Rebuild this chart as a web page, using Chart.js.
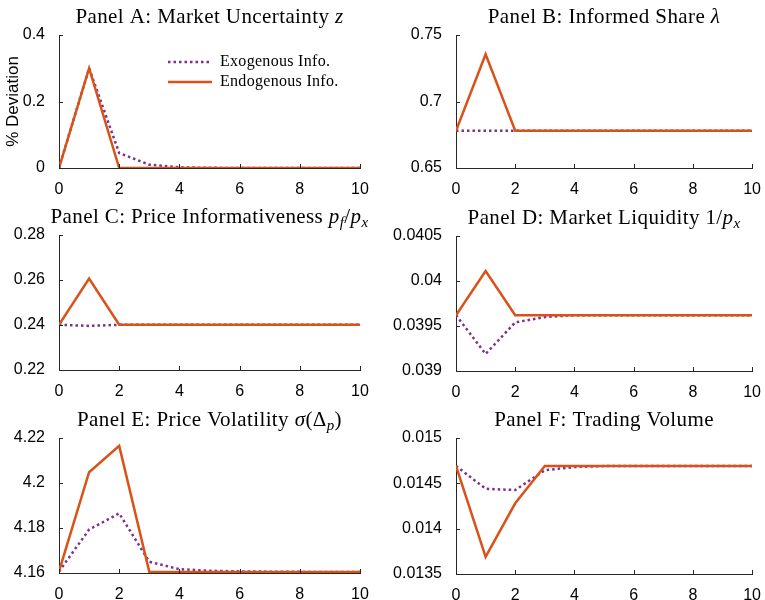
<!DOCTYPE html>
<html>
<head>
<meta charset="utf-8">
<script src="https://cdn.jsdelivr.net/npm/chart.js@4.4.1/dist/chart.umd.min.js"></script>
<style>
  body { margin: 0; background: #fff; }
  canvas { position: absolute; }
</style>
</head>
<body>
<canvas id="pA" width="380" height="200" style="left:0;top:0"></canvas>
<canvas id="pB" width="385" height="200" style="left:380px;top:0"></canvas>
<canvas id="pC" width="380" height="202" style="left:0;top:200px"></canvas>
<canvas id="pD" width="385" height="202" style="left:380px;top:200px"></canvas>
<canvas id="pE" width="380" height="198" style="left:0;top:402px"></canvas>
<canvas id="pF" width="385" height="198" style="left:380px;top:402px"></canvas>
<script>
// periods after the shock
const periods = [0, 1, 2, 3, 4, 5, 6, 7, 8, 9, 10];
const xTicks = [0, 2, 4, 6, 8, 10];

// Panel A: market uncertainty z
const zExo  = [0, 0.300, 0.045, 0.010, 0.002, 0.0005, 0, 0, 0, 0, 0];
const zEndo = [0, 0.300, 0, 0, 0, 0, 0, 0, 0, 0, 0];
const zTicks = [0, 0.2, 0.4];

// Panel B: informed share lambda
const lamExo  = [0.678, 0.678, 0.678, 0.678, 0.678, 0.678, 0.678, 0.678, 0.678, 0.678, 0.678];
const lamEndo = [0.678, 0.7355, 0.678, 0.678, 0.678, 0.678, 0.678, 0.678, 0.678, 0.678, 0.678];
const lamTicks = [0.65, 0.7, 0.75];

// Panel C: price informativeness pf/px
const infoExo  = [0.2401, 0.2396, 0.2401, 0.2401, 0.2401, 0.2401, 0.2401, 0.2401, 0.2401, 0.2401, 0.2401];
const infoEndo = [0.2401, 0.2606, 0.2401, 0.2401, 0.2401, 0.2401, 0.2401, 0.2401, 0.2401, 0.2401, 0.2401];
const infoTicks = [0.22, 0.24, 0.26, 0.28];

// Panel D: market liquidity 1/px
const liqExo  = [0.03962, 0.03919, 0.03954, 0.03960, 0.03962, 0.03962, 0.03962, 0.03962, 0.03962, 0.03962, 0.03962];
const liqEndo = [0.03962, 0.04011, 0.03962, 0.03962, 0.03962, 0.03962, 0.03962, 0.03962, 0.03962, 0.03962, 0.03962];
const liqTicks = [0.039, 0.0395, 0.04, 0.0405];

// Panel E: price volatility
const volExo  = [4.1607, 4.1793, 4.1865, 4.1650, 4.1617, 4.1610, 4.1607, 4.1606, 4.1605, 4.1605, 4.1605];
const volEndo = [4.1607, 4.2048, 4.2165, 4.1605, 4.1605, 4.1605, 4.1605, 4.1605, 4.1605, 4.1605, 4.1605];
const volTicks = [4.16, 4.18, 4.2, 4.22];

// Panel F: trading volume
const tvExo  = [0.014692, 0.014440, 0.014426, 0.014644, 0.014680, 0.014690, 0.014692, 0.014692, 0.014692, 0.014692, 0.014692];
const tvEndo = [0.014692, 0.013688, 0.014280, 0.014692, 0.014692, 0.014692, 0.014692, 0.014692, 0.014692, 0.014692, 0.014692];
const tvTicks = [0.0135, 0.014, 0.0145, 0.015];

const seriesNames = ["Exogenous Info.", "Endogenous Info."];
const exoColor = "#7E2F8E";
const endoColor = "#D95319";
const axisColor = "#262626";
const serif = "'Liberation Serif', 'DejaVu Serif', serif";
const sans = "'Liberation Sans', Arial, sans-serif";

// title pieces: [text, style] where style is n (normal), i (italic), s (italic subscript)
const titles = {
    pA: [["Panel A: Market Uncertainty ", "n"], ["z", "i"]],
    pB: [["Panel B: Informed Share ", "n"], ["λ", "i"]],
    pC: [["Panel C: Price Informativeness ", "n"], ["p", "i"], ["f", "s"], ["/", "n"], ["p", "i"], ["x", "s"]],
    pD: [["Panel D: Market Liquidity 1/", "n"], ["p", "i"], ["x", "s"]],
    pE: [["Panel E: Price Volatility ", "n"], ["σ", "i"], ["(Δ", "n"], ["p", "s"], [")", "n"]],
    pF: [["Panel F: Trading Volume", "n"]]
};

function pieceFont(style) {
    if (style === "s") return "italic 15px " + serif;
    if (style === "i") return "italic 21px " + serif;
    return "21px " + serif;
}

const panelDeco = {
    id: "panelDeco",
    afterDraw(chart, args, opts) {
        const ctx = chart.ctx;
        const area = chart.chartArea;
        const xs = chart.scales.x, ys = chart.scales.y;
        ctx.save();
        // inward tick marks
        ctx.strokeStyle = axisColor;
        ctx.lineWidth = 1;
        ctx.beginPath();
        xs.ticks.forEach(t => {
            const px = Math.round(xs.getPixelForValue(t.value)) + 0.5;
            ctx.moveTo(px, area.bottom);
            ctx.lineTo(px, area.bottom - 4);
        });
        ys.ticks.forEach(t => {
            const py = Math.round(ys.getPixelForValue(t.value)) + 0.5;
            ctx.moveTo(area.left, py);
            ctx.lineTo(area.left + 4, py);
        });
        ctx.stroke();

        // panel title with math pieces
        const pieces = titles[opts.key];
        ctx.letterSpacing = "0.4px";
        let total = 0;
        pieces.forEach(p => { ctx.font = pieceFont(p[1]); total += ctx.measureText(p[0]).width; });
        let x = (area.left + area.right) / 2 - total / 2;
        const base = area.top - 12.5;
        ctx.fillStyle = "#000";
        ctx.textBaseline = "alphabetic";
        ctx.textAlign = "left";
        pieces.forEach(p => {
            ctx.font = pieceFont(p[1]);
            ctx.fillText(p[0], x, p[1] === "s" ? base + 4 : base);
            x += ctx.measureText(p[0]).width;
        });
        ctx.letterSpacing = "0px";

        // legend only in panel A
        if (opts.legend) {
            const lx = area.left + 109, ly = area.top + 27;
            chart.data.datasets.forEach((ds, k) => {
                const y = ly + k * 20;
                ctx.strokeStyle = ds.borderColor;
                ctx.lineWidth = ds.borderWidth;
                ctx.setLineDash(ds.borderDash || []);
                ctx.beginPath();
                ctx.moveTo(lx, y);
                ctx.lineTo(lx + 44, y);
                ctx.stroke();
                ctx.setLineDash([]);
                ctx.font = "16px " + serif;
                ctx.letterSpacing = "0.3px";
                ctx.fillStyle = "#000";
                ctx.textBaseline = "middle";
                ctx.fillText(ds.label, lx + 52, y);
                ctx.letterSpacing = "0px";
            });
        }
        ctx.restore();
    }
};

function toPoints(vals) {
    return periods.map((t, i) => ({x: t, y: vals[i]}));
}

function makePanel(id, exo, endo, yTicks, layout) {
    const yScale = {
        type: "linear",
        min: yTicks[0],
        max: yTicks[yTicks.length - 1],
        afterBuildTicks: s => { s.ticks = yTicks.map(v => ({value: v})); },
        afterFit: s => { s.width = layout.yw; },
        grid: {display: false},
        border: {display: true, color: axisColor, width: 1},
        ticks: {font: {family: sans, size: 16}, color: "#000", padding: 6, callback: v => String(v)}
    };
    if (layout.ytitle) {
        yScale.title = {display: true, text: layout.ytitle, color: "#000",
            font: {family: sans, size: 17}, padding: {top: 3, bottom: 0}};
    }
    new Chart(document.getElementById(id), {
        type: "line",
        data: {
            datasets: [
                {label: seriesNames[0], data: toPoints(exo), borderColor: exoColor, borderWidth: 2.5,
                    borderDash: [2.5, 3], pointRadius: 0, order: 2},
                {label: seriesNames[1], data: toPoints(endo), borderColor: endoColor, borderWidth: 2.5,
                    pointRadius: 0, order: 1}
            ]
        },
        options: {
            responsive: false,
            animation: false,
            devicePixelRatio: 1,
            layout: {padding: {top: layout.top, right: layout.right, left: 0, bottom: 0}},
            plugins: {
                legend: {display: false},
                tooltip: {enabled: false},
                panelDeco: {key: id, legend: !!layout.legend}
            },
            scales: {
                x: {
                    type: "linear",
                    min: 0,
                    max: 10,
                    afterBuildTicks: s => { s.ticks = xTicks.map(v => ({value: v})); },
                    afterFit: s => { s.height = layout.xh; },
                    grid: {display: false},
                    border: {display: true, color: axisColor, width: 1},
                    ticks: {font: {family: sans, size: 16}, color: "#000", padding: 4,
                        maxRotation: 0, autoSkip: false, callback: v => String(v)}
                },
                y: yScale
            }
        },
        plugins: [panelDeco]
    });
}

makePanel("pA", zExo, zEndo, zTicks, {yw: 59, right: 20, top: 35, xh: 32, ytitle: "% Deviation", legend: true});
makePanel("pB", lamExo, lamEndo, lamTicks, {yw: 76, right: 9, top: 35, xh: 32});
makePanel("pC", infoExo, infoEndo, infoTicks, {yw: 59, right: 20, top: 35, xh: 32});
makePanel("pD", liqExo, liqEndo, liqTicks, {yw: 76, right: 9, top: 36, xh: 31});
makePanel("pE", volExo, volEndo, volTicks, {yw: 59, right: 20, top: 36, xh: 27});
makePanel("pF", tvExo, tvEndo, tvTicks, {yw: 76, right: 9, top: 36, xh: 26});
</script>
</body>
</html>
